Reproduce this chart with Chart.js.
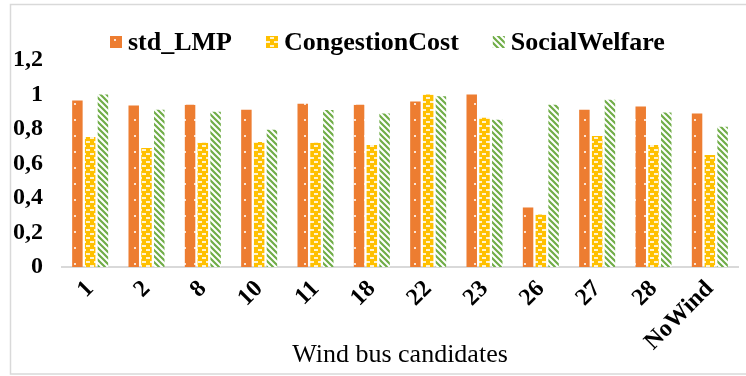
<!DOCTYPE html>
<html>
<head>
<meta charset="utf-8">
<script src="https://cdn.jsdelivr.net/npm/chart.js@4.4.1/dist/chart.umd.min.js"></script>
<style>
  html, body { margin: 0; padding: 0; background: #fff; }
  #wrap { width: 746px; height: 376px; position: relative; }
</style>
</head>
<body>
<div id="wrap"><canvas id="myChart" width="746" height="376"></canvas></div>
<script>
const categories = ['1', '2', '8', '10', '11', '18', '22', '23', '26', '27', '28', 'NoWind'];
const stdLMP = [0.965, 0.936, 0.94, 0.912, 0.947, 0.94, 0.96, 1.0, 0.345, 0.912, 0.93, 0.89];
const congestionCost = [0.754, 0.69, 0.72, 0.725, 0.72, 0.707, 1.0, 0.865, 0.304, 0.76, 0.707, 0.65];
const socialWelfare = [1.0, 0.912, 0.9, 0.795, 0.91, 0.89, 0.99, 0.854, 0.94, 0.97, 0.895, 0.813];
const yTicks = [0, 0.2, 0.4, 0.6, 0.8, 1, 1.2];
const xTitle = 'Wind bus candidates';

const serif = "'Liberation Serif', 'Times New Roman', serif";

// small tiles used as bar fills
const makeTile = (w, h, draw) => {
    const c = document.createElement('canvas');
    c.width = w; c.height = h;
    const g = c.getContext('2d');
    draw(g, w, h);
    return document.getElementById('myChart').getContext('2d').createPattern(c, 'repeat');
};

const orangeFill = makeTile(10, 16, (g, w, h) => {
    g.fillStyle = '#ED7D31';
    g.fillRect(0, 0, w, h);
    g.fillStyle = '#fbe3d3';
    g.fillRect(4, 7, 2, 2);
});

const yellowFill = makeTile(8, 8, (g, w, h) => {
    g.fillStyle = '#FFC000';
    g.fillRect(0, 0, w, h);
    g.fillStyle = '#fff3cf';
    g.fillRect(2, 1, 4, 2);
    g.fillRect(0, 5, 2, 2);
    g.fillRect(6, 5, 2, 2);
});

const greenFill = makeTile(6, 6, (g, w, h) => {
    g.fillStyle = '#ffffff';
    g.fillRect(0, 0, w, h);
    g.strokeStyle = '#70AD47';
    g.lineWidth = 2.2;
    g.beginPath();
    g.moveTo(-1, -1); g.lineTo(w + 1, h + 1);
    g.moveTo(-1, h - 1); g.lineTo(1, h + 1);
    g.moveTo(w - 1, -1); g.lineTo(w + 1, 1);
    g.stroke();
});

// thin grey frame around the chart
const frame = {
    id: 'frame',
    beforeDraw(chart) {
        const c = chart.ctx;
        c.save();
        c.fillStyle = '#fff';
        c.fillRect(0, 0, chart.width, chart.height);
        c.strokeStyle = '#d9d9d9';
        c.lineWidth = 1.5;
        c.strokeRect(10.5, 4.5, 800, 369.5);
        c.restore();
    }
};

// legend row + axis title, drawn by hand so they sit where we want
const extras = {
    id: 'extras',
    afterDraw(chart) {
        const c = chart.ctx;
        const area = chart.chartArea;
        c.save();
        c.font = `bold 26px ${serif}`;
        c.textBaseline = 'middle';
        let x = 110;
        const y = 42;
        chart.data.datasets.forEach(ds => {
            c.fillStyle = ds.backgroundColor;
            c.fillRect(x, y - 6, 12, 12);
            c.fillStyle = '#000';
            c.fillText(ds.label, x + 18, y + 1);
            x += 18 + c.measureText(ds.label).width + 34;
        });
        c.font = `26px ${serif}`;
        c.textAlign = 'center';
        c.textBaseline = 'alphabetic';
        c.fillText(xTitle, (area.left + area.right) / 2, 362);
        c.restore();
    }
};

const fmt = v => String(Math.round(v * 10) / 10).replace('.', ',');

const ctx = document.getElementById('myChart').getContext('2d');
const chart = new Chart(ctx, {
    type: 'bar',
    data: {
        labels: categories,
        datasets: [
            { label: 'std_LMP', data: stdLMP, backgroundColor: orangeFill },
            { label: 'CongestionCost', data: congestionCost, backgroundColor: yellowFill },
            { label: 'SocialWelfare', data: socialWelfare, backgroundColor: greenFill }
        ]
    },
    options: {
        responsive: false,
        animation: false,
        datasets: { bar: { categoryPercentage: 0.68, barPercentage: 0.82 } },
        layout: { padding: { top: 60, right: 8, bottom: 6, left: 10 } },
        plugins: {
            legend: { display: false },
            tooltip: { enabled: false }
        },
        scales: {
            x: {
                grid: { display: false, drawTicks: false },
                border: { display: true, color: '#d9d9d9', width: 2 },
                ticks: {
                    color: '#000',
                    font: { family: serif, size: 24, weight: 'bold' },
                    minRotation: 45,
                    maxRotation: 45,
                    padding: 8
                },
                afterFit(scale) { scale.height = 103; }
            },
            y: {
                min: 0,
                max: 1.2,
                grid: { display: false, drawTicks: false },
                border: { display: false },
                afterBuildTicks(scale) { scale.ticks = yTicks.map(v => ({ value: v })); },
                ticks: {
                    color: '#000',
                    font: { family: serif, size: 24, weight: 'bold' },
                    padding: 19,
                    callback: v => fmt(v)
                },
                afterFit(scale) { scale.width = 52; }
            }
        }
    },
    plugins: [frame, extras]
});
</script>
</body>
</html>
